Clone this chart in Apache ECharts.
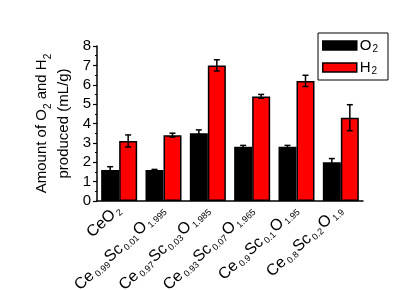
<!DOCTYPE html>
<html><head><meta charset="utf-8">
<script src="https://cdn.jsdelivr.net/npm/echarts@6/dist/echarts.min.js"></script>
<style>html,body{margin:0;padding:0;background:#fff}#c{width:416px;height:290px}</style>
</head><body><div id="c"></div>
<script>
// categories as [normal, sub, normal, sub, ...]
const categories = [
  ['CeO','2'],
  ['Ce','0.99','Sc','0.01','O','1.995'],
  ['Ce','0.97','Sc','0.03','O','1.985'],
  ['Ce','0.93','Sc','0.07','O','1.965'],
  ['Ce','0.9','Sc','0.1','O','1.95'],
  ['Ce','0.8','Sc','0.2','O','1.9']
];
const o2Values = [1.6, 1.6, 3.5, 2.8, 2.8, 2.0];
const o2Errors = [0.17, 0.03, 0.17, 0.07, 0.07, 0.19];
const h2Values = [3.1, 3.4, 7.0, 5.4, 6.2, 4.3];
const h2Errors = [0.31, 0.10, 0.29, 0.10, 0.29, 0.67];
const yTicks = [0,1,2,3,4,5,6,7,8];

const FONT = 'Liberation Sans, Arial, sans-serif';
const BAR_W = 18;
const catKeys = categories.map((_, i) => String(i));

function richLabel(parts) {
  return parts.map((p, i) => (i % 2 === 0 ? '{n|' + p + '}' : '{s|' + p + '}')).join('');
}

function errSeries(values, errors, sideSign) {
  return {
    type: 'custom',
    z: 10,
    silent: true,
    data: values.map((v, i) => [i, v, errors[i]]),
    renderItem: function (params, api) {
      const i = api.value(0), v = api.value(1), e = api.value(2);
      const top = api.coord([i, v + e]);
      const bot = api.coord([i, v - e]);
      const x = top[0] + sideSign * BAR_W / 2;
      const cap = 3;
      const st = { stroke: '#000', lineWidth: 1.5 };
      return {
        type: 'group',
        children: [
          { type: 'line', shape: { x1: x, y1: top[1], x2: x, y2: bot[1] }, style: st },
          { type: 'line', shape: { x1: x - cap, y1: top[1], x2: x + cap, y2: top[1] }, style: st },
          { type: 'line', shape: { x1: x - cap, y1: bot[1], x2: x + cap, y2: bot[1] }, style: st }
        ]
      };
    }
  };
}

const chart = echarts.init(document.getElementById('c'), null, { renderer: 'canvas' });
chart.setOption({
  animation: false,
  backgroundColor: '#fff',
  textStyle: { fontFamily: FONT },
  grid: { left: 97, right: 53, top: 46, bottom: 89, containLabel: false, outerBoundsMode: 'none' },
  legend: {
    orient: 'vertical',
    right: 28, top: 33,
    itemWidth: 34, itemHeight: 9, itemGap: 6,
    padding: [5, 10, 4, 4],
    borderColor: '#000', borderWidth: 1,
    data: [
      { name: 'O2', icon: 'rect', itemStyle: { color: '#000', borderColor: '#000', borderWidth: 1.5 } },
      { name: 'H2', icon: 'rect', itemStyle: { color: '#ff0000', borderColor: '#000', borderWidth: 1.5 } }
    ],
    formatter: function (name) { return '{n|' + name[0] + '}{s|' + name.slice(1) + '}'; },
    textStyle: {
      padding: [0, 0, 0, -2],
      rich: {
        n: { fontSize: 15, color: '#000', fontFamily: FONT, lineHeight: 17 },
        s: { fontSize: 10, color: '#000', fontFamily: FONT, verticalAlign: 'bottom', lineHeight: 8, padding: [0, 0, 0, 1] }
      }
    }
  },
  xAxis: {
    type: 'category',
    data: catKeys,
    axisLine: { lineStyle: { color: '#000', width: 1.5 } },
    axisTick: { show: false },
    axisLabel: {
      interval: 0, rotate: 43, margin: 6,
      formatter: function (v) { return richLabel(categories[+v]); },
      rich: {
        n: { fontSize: 16, color: '#000', fontFamily: FONT, lineHeight: 18 },
        s: { fontSize: 9, color: '#000', fontFamily: FONT, verticalAlign: 'bottom', lineHeight: 6, padding: [0, 1, 0, 2] }
      }
    }
  },
  yAxis: {
    type: 'value',
    min: 0, max: 8, interval: 1,
    name: '{n|Amount of O}{s|2}{n| and H}{s|2}\n{n|produced (mL/g)}',
    nameLocation: 'middle', nameRotate: 90, nameGap: 21,
    nameTextStyle: {
      rich: {
        n: { fontSize: 15, color: '#000', fontFamily: FONT, lineHeight: 22 },
        s: { fontSize: 10, color: '#000', fontFamily: FONT, verticalAlign: 'bottom', lineHeight: 12 }
      }
    },
    axisLine: { show: true, lineStyle: { color: '#000', width: 1.5 } },
    axisTick: { show: true, inside: false, length: 4, lineStyle: { color: '#000', width: 1.2 } },
    minorTick: { show: true, splitNumber: 2, length: 2, lineStyle: { color: '#000', width: 1 } },
    splitLine: { show: false },
    axisLabel: {
      margin: 6, fontSize: 15, color: '#000', fontFamily: FONT,
      formatter: function (v) { return yTicks.indexOf(v) >= 0 ? String(v) : ''; }
    }
  },
  series: [
    { name: 'O2', type: 'bar', data: o2Values, barWidth: BAR_W, barGap: '0%',
      itemStyle: { color: '#000', borderColor: '#000', borderWidth: 1.5 } },
    { name: 'H2', type: 'bar', data: h2Values, barWidth: BAR_W, barGap: '0%',
      itemStyle: { color: '#ff0000', borderColor: '#000', borderWidth: 1.5 } },
    errSeries(o2Values, o2Errors, -1),
    errSeries(h2Values, h2Errors, 1)
  ]
});
</script></body></html>
